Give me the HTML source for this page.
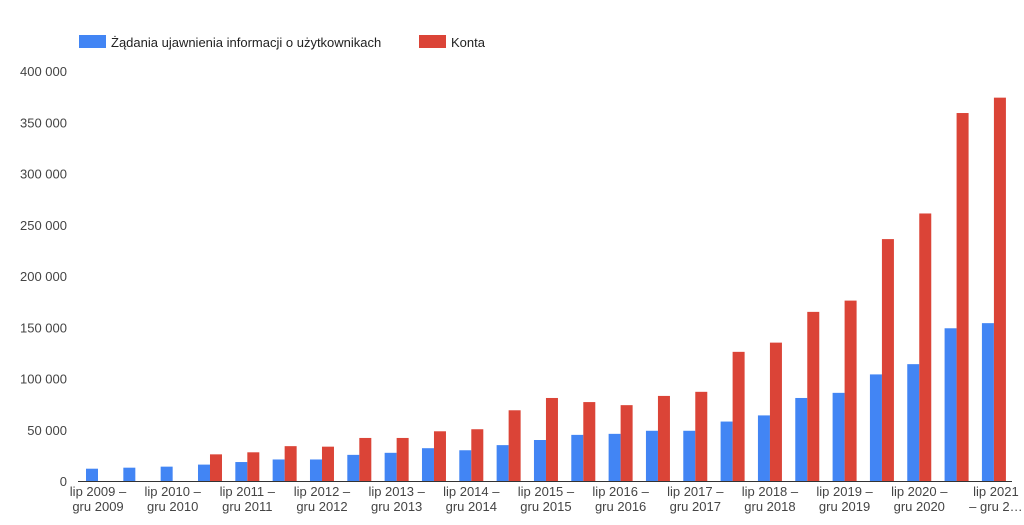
<!DOCTYPE html>
<html><head><meta charset="utf-8"><style>
body{margin:0;background:#fff;}
svg text{font-family:"Liberation Sans",Arial,sans-serif;}
</style></head><body>
<svg id="chart" width="1024" height="520" xmlns="http://www.w3.org/2000/svg">
<g>
<rect x="79" y="35" width="27" height="13" fill="#4285f4"/>
<text x="111" y="47" font-size="13" fill="#222">Żądania ujawnienia informacji o użytkownikach</text>
<rect x="419" y="35" width="27" height="13" fill="#db4437"/>
<text x="451" y="47" font-size="13" fill="#222">Konta</text>
</g>
<g id="yaxis"></g>
<g id="bars"></g>
<g id="xaxis"></g>
</svg>
<script>
const categories = ["lip 2009 – gru 2009","sty 2010 – cze 2010","lip 2010 – gru 2010","sty 2011 – cze 2011","lip 2011 – gru 2011","sty 2012 – cze 2012","lip 2012 – gru 2012","sty 2013 – cze 2013","lip 2013 – gru 2013","sty 2014 – cze 2014","lip 2014 – gru 2014","sty 2015 – cze 2015","lip 2015 – gru 2015","sty 2016 – cze 2016","lip 2016 – gru 2016","sty 2017 – cze 2017","lip 2017 – gru 2017","sty 2018 – cze 2018","lip 2018 – gru 2018","sty 2019 – cze 2019","lip 2019 – gru 2019","sty 2020 – cze 2020","lip 2020 – gru 2020","sty 2021 – cze 2021","lip 2021 – gru 2021"];
const requests = [12000,13000,14000,16000,18500,21000,21000,25500,27500,32000,30000,35000,40000,45000,46000,49000,49000,58000,64000,81000,86000,104000,114000,149000,154000];
const accounts = [0,0,0,26000,28000,34000,33500,42000,42000,48500,50500,69000,81000,77000,74000,83000,87000,126000,135000,165000,176000,236000,261000,359000,374000];
const yTicks = [0,50000,100000,150000,200000,250000,300000,350000,400000];
const yTickLabels = ["0","50 000","100 000","150 000","200 000","250 000","300 000","350 000","400 000"];

const NS="http://www.w3.org/2000/svg";
const y0=481, yTop=71, yMax=400000;
const y=v=>y0-(v/yMax)*(y0-yTop);
const x0=98, step=37.33;
const xc=i=>x0+i*step;
const barW=12;
function mk(tag,attrs,parent){const e=document.createElementNS(NS,tag);for(const k in attrs)e.setAttribute(k,attrs[k]);parent.appendChild(e);return e;}
const ya=document.getElementById('yaxis'), bars=document.getElementById('bars'), xa=document.getElementById('xaxis');
yTicks.forEach((t,i)=>{
  const tx=mk('text',{x:67,y:y(t)+5,'text-anchor':'end','font-size':13,fill:'#444'},ya);
  
  
  tx.textContent=yTickLabels[i];
});
categories.forEach((c,i)=>{
  const b=mk('rect',{x:xc(i)-barW,y:y(requests[i]),width:barW,height:y0-y(requests[i]),fill:'#4285f4'},bars);
  
  
  if(accounts[i]>0){
    const r=mk('rect',{x:xc(i),y:y(accounts[i]),width:barW,height:y0-y(accounts[i]),fill:'#db4437'},bars);
    
    
  }
  if(i%2===0){
    let parts=c.split(' – ');
    let l1=parts[0]+' –', l2=parts[1];
    if(i===categories.length-1){l1=parts[0];l2='– '+parts[1].slice(0,5)+'…';}
    const t=mk('text',{x:xc(i)+(i===categories.length-1?2:0),'text-anchor':'middle','font-size':13,fill:'#444'},xa);
    
    
    const s1=mk('tspan',{x:t.getAttribute('x'),y:496},t);s1.textContent=l1;
    const s2=mk('tspan',{x:t.getAttribute('x'),y:511},t);s2.textContent=l2;
  }
});
const base=mk('line',{x1:78,x2:1012,y1:y0+0.5,y2:y0+0.5,stroke:'#333','stroke-width':1},xa);


</script>
</body></html>
